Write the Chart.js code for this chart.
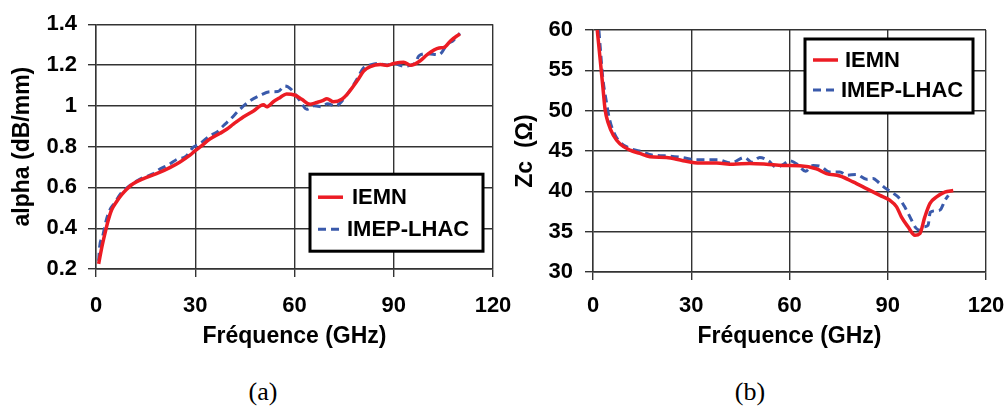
<!DOCTYPE html>
<html>
<head>
<meta charset="utf-8">
<script src="https://cdn.jsdelivr.net/npm/chart.js@4.4.1/dist/chart.umd.min.js"></script>
<style>
  body { margin: 0; background: #fff; width: 1007px; height: 408px; overflow: hidden; position: relative; }
  canvas { position: absolute; top: 0; }
  .cap { position: absolute; top: 377px; font: 26px "Liberation Serif", "Times New Roman", serif; color: #000; transform: translateX(-50%); }
</style>
</head>
<body>
<canvas id="chartA" width="529" height="360" style="left:0"></canvas>
<canvas id="chartB" width="519" height="360" style="left:500px"></canvas>
<div class="cap" style="left:263px">(a)</div>
<div class="cap" style="left:750px">(b)</div>
<script>
// x axis ticks (GHz), same for both plots
const freqTicks = [0, 30, 60, 90, 120];

// (a) attenuation
const alphaTicks = [0.2, 0.4, 0.6, 0.8, 1.0, 1.2, 1.4];
const alphaTickLabels = ['0.2', '0.4', '0.6', '0.8', '1', '1.2', '1.4'];

const freqA_iemn = [0.8, 1.6, 2.6, 3.6, 4.7, 6.2, 7.7, 9.2, 11.2, 14.2, 18.3, 22.3, 25.4, 28.4, 30, 31.4, 34.4, 37.5, 39.5, 41.5, 44.5, 47.6, 50.6, 51.6, 53.6, 55.6, 57.6, 60, 62.2, 64.7, 66.7, 68.5, 69.8, 71.8, 74.3, 75.9, 78.9, 80.9, 82.9, 86, 88, 90, 93, 95.1, 98.1, 100.1, 103.7, 105.2, 107.2, 110];
const alpha_iemn = [0.225, 0.294, 0.367, 0.433, 0.489, 0.530, 0.563, 0.590, 0.618, 0.642, 0.667, 0.697, 0.725, 0.758, 0.780, 0.797, 0.837, 0.865, 0.885, 0.910, 0.945, 0.975, 1.005, 0.995, 1.020, 1.040, 1.058, 1.053, 1.032, 1.008, 1.016, 1.025, 1.035, 1.020, 1.032, 1.056, 1.121, 1.170, 1.192, 1.202, 1.198, 1.207, 1.213, 1.199, 1.222, 1.251, 1.283, 1.286, 1.319, 1.353];

const freqA_imep = [0.8, 1.1, 2, 3.1, 4.2, 5.7, 7.5, 9.5, 13.2, 17, 19.3, 21.8, 24.8, 27, 29.4, 31.5, 34.4, 36.5, 38.5, 41, 43, 46.5, 49.5, 52.6, 55, 57.1, 59, 61.7, 63.7, 66, 68.2, 70, 72.3, 75.9, 78.5, 80.9, 82.9, 84.9, 88, 90, 93, 96.5, 97.6, 100, 103.7, 106.2, 108, 110];
const alpha_imep = [0.24, 0.31, 0.36, 0.44, 0.49, 0.525, 0.57, 0.60, 0.64, 0.665, 0.69, 0.71, 0.74, 0.75, 0.797, 0.815, 0.853, 0.87, 0.902, 0.94, 0.975, 1.024, 1.05, 1.069, 1.07, 1.097, 1.08, 1.024, 0.983, 1.0, 0.995, 1.01, 0.999, 1.056, 1.12, 1.186, 1.2, 1.207, 1.2, 1.207, 1.195, 1.21, 1.245, 1.255, 1.251, 1.303, 1.32, 1.356];

// (b) characteristic impedance
const zcTicks = [30, 35, 40, 45, 50, 55, 60];
const zcTickLabels = ['30', '35', '40', '45', '50', '55', '60'];

const freqB_iemn = [1.3, 2.1, 3.0, 3.7, 4.7, 6.2, 8.2, 11.3, 14.3, 17.4, 22.4, 27.5, 32.6, 37.7, 42.8, 47.9, 52.9, 58, 63.1, 68.2, 71.3, 75.4, 79.4, 83.5, 87.6, 90.6, 92.7, 94.2, 96.2, 98.3, 99.8, 101.3, 102.9, 104.9, 107.4, 110];
const zc_iemn = [60, 56.7, 53.0, 50.1, 48.4, 46.95, 45.9, 45.1, 44.7, 44.3, 44.2, 43.8, 43.5, 43.5, 43.36, 43.45, 43.36, 43.2, 43.16, 42.8, 42.2, 41.9, 41.17, 40.34, 39.5, 38.9, 38.07, 36.8, 35.6, 34.55, 34.76, 36.8, 38.5, 39.3, 39.9, 40.1];

const freqB_imep = [1.8, 2.2, 3, 4, 5, 6.5, 8.5, 11.5, 15, 18, 22, 27, 31.6, 35, 38.2, 42, 46.3, 48.5, 50.9, 53.5, 56, 58, 60, 62.5, 64.9, 67.2, 69.5, 72.3, 75.4, 77.5, 80.4, 83.5, 85.5, 87.5, 89.6, 91.5, 93.2, 95, 96.7, 98.5, 99.7, 101, 102.3, 103, 105, 106, 107.5, 108.5];
const zc_imep = [60, 57.9, 54, 51.3, 49, 47.2, 46.0, 45.3, 44.9, 44.5, 44.4, 44.2, 43.9, 43.9, 43.9, 43.5, 44.2, 43.6, 44.2, 43.8, 43.0, 43.3, 43.8, 43.3, 42.5, 43.2, 43.1, 42.4, 42.4, 42.0, 42.1, 41.5, 41.6, 41.0, 40.3, 39.8, 39.3, 38.2, 36.9, 35.5, 35.2, 35.6, 35.8, 37.4, 37.6, 37.7, 38.9, 39.5];

const RED = '#ec1c24';
const BLUE = '#3a5aab';
const GRID = '#333';
const FONT = '"Liberation Sans", Arial, sans-serif';

Chart.defaults.color = '#000';
Chart.defaults.font.family = FONT;
Chart.defaults.font.weight = 'bold';

const pts = (xs, ys) => xs.map((x, i) => ({ x: x, y: ys[i] }));

// legend drawn inside the plot as a framed box
const boxLegend = {
  id: 'boxLegend',
  afterDatasetsDraw(chart, args, o) {
    const { ctx, chartArea } = chart;
    const x = chartArea.right - o.right - o.w;
    const y = chartArea.top + o.top;
    ctx.save();
    ctx.fillStyle = '#fff';
    ctx.fillRect(x, y, o.w, o.h);
    ctx.lineWidth = 3;
    ctx.strokeStyle = '#000';
    ctx.strokeRect(x, y, o.w, o.h);
    ctx.font = 'bold 22px ' + FONT;
    ctx.textBaseline = 'middle';
    chart.data.datasets.forEach((ds, i) => {
      const ry = y + o.rowTop + i * o.rowGap;
      ctx.beginPath();
      ctx.setLineDash(ds.borderDash || []);
      ctx.strokeStyle = ds.borderColor;
      ctx.lineWidth = ds.borderWidth;
      ctx.moveTo(x + 8, ry);
      ctx.lineTo(x + 33, ry);
      ctx.stroke();
      ctx.setLineDash([]);
      ctx.fillStyle = '#000';
      ctx.fillText(ds.label, x + o.textX[i], ry + 1);
    });
    ctx.restore();
  }
};

function makeChart(id, c) {
  return new Chart(document.getElementById(id), {
    type: 'line',
    data: {
      datasets: [
        { label: 'IEMN', data: c.red, borderColor: RED, borderWidth: 3.5, pointRadius: 0, cubicInterpolationMode: 'monotone' },
        { label: 'IMEP-LHAC', data: c.blue, borderColor: BLUE, borderWidth: 3, borderDash: [8, 5], pointRadius: 0, cubicInterpolationMode: 'monotone' }
      ]
    },
    options: {
      responsive: false,
      animation: false,
      devicePixelRatio: 1,
      layout: { padding: c.padding },
      plugins: { legend: { display: false }, tooltip: { enabled: false }, boxLegend: c.legend },
      scales: {
        x: {
          type: 'linear', min: 0, max: 120,
          afterBuildTicks: s => { s.ticks = freqTicks.map(v => ({ value: v })); },
          afterFit: s => { s.height = c.xHeight; },
          grid: { color: GRID, lineWidth: 1.4, tickLength: 8 },
          border: { color: GRID, width: 1.4 },
          ticks: { padding: c.xPad, font: { size: 22, weight: 'bold' }, maxRotation: 0 },
          title: { display: true, text: 'Fréquence (GHz)', font: { size: 23, weight: 'bold' }, padding: { top: 0, bottom: 10 } }
        },
        y: {
          min: c.yMin, max: c.yMax,
          afterBuildTicks: s => { s.ticks = c.yTicks.map(v => ({ value: v })); },
          afterFit: s => { s.width = c.yWidth; },
          grid: { color: GRID, lineWidth: 1.4, tickLength: 8 },
          border: { color: GRID, width: 1.4 },
          ticks: { padding: c.yPad, font: { size: 22, weight: 'bold' }, callback: (v, i) => c.yLabels[i] },
          title: { display: true, text: c.yTitle, font: { size: 23, weight: 'bold' }, padding: { top: c.yTitlePad, bottom: 0 } }
        }
      }
    },
    plugins: [boxLegend]
  });
}

// chart area A: x 96..493, y 23..269 (canvas 529 wide, right pad 36)
makeChart('chartA', {
  red: pts(freqA_iemn, alpha_iemn),
  blue: pts(freqA_imep, alpha_imep),
  padding: { top: 23, right: 36, bottom: 0, left: 0 },
  xHeight: 91, xPad: 16,
  yMin: 0.2, yMax: 1.4, yTicks: alphaTicks, yLabels: alphaTickLabels,
  yWidth: 96, yPad: 11, yTitle: 'alpha (dB/mm)', yTitlePad: 9,
  legend: { right: 10, w: 173, top: 150, h: 77, rowTop: 23, rowGap: 32, textX: [42, 37] }
});

// chart area B: x 593..986, y 30..272 (canvas at 500, 519 wide, right pad 33)
makeChart('chartB', {
  red: pts(freqB_iemn, zc_iemn),
  blue: pts(freqB_imep, zc_imep),
  padding: { top: 30, right: 33, bottom: 0, left: 0 },
  xHeight: 88, xPad: 13,
  yMin: 30, yMax: 60, yTicks: zcTicks, yLabels: zcTickLabels,
  yWidth: 93, yPad: 12, yTitle: 'Zc  (Ω)', yTitlePad: 12,
  legend: { right: 13, w: 168, top: 9, h: 74, rowTop: 21, rowGap: 30, textX: [40, 36] }
});
</script>
</body>
</html>
